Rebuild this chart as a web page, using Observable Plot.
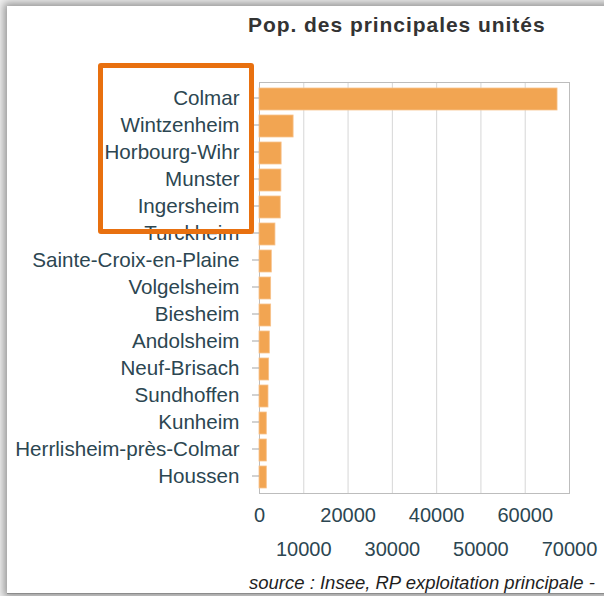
<!DOCTYPE html>
<html>
<head>
<meta charset="utf-8">
<script src="https://cdn.jsdelivr.net/npm/d3@7"></script>
<script src="https://cdn.jsdelivr.net/npm/@observablehq/plot@0.6"></script>
<style>
  html, body { margin: 0; padding: 0; }
  body { width: 604px; height: 596px; overflow: hidden; position: relative; background: #f0f0f0;
         font-family: "Liberation Sans", Arial, sans-serif; }
  #card { position: absolute; left: 7px; top: 6px; width: 640px; height: 587px; background: #fff;
          box-shadow: 0 0 8px 3px rgba(0,0,0,0.38); border-bottom: 1px solid #8c8c8c; }
  #title { position: absolute; left: 248px; top: 14px; font-size: 21px; line-height: 21px; font-weight: bold;
           letter-spacing: 0.95px; color: #333; white-space: nowrap; }
  #chart { position: absolute; left: 0; top: 60px; }
  #caption { position: absolute; left: 249px; top: 574px; font-size: 18.5px; line-height: 18.5px; font-style: italic;
             color: #1e1e1e; white-space: nowrap; }
  #highlight { position: absolute; left: 98px; top: 63px; width: 156px; height: 171px; box-sizing: border-box;
               border: 5.5px solid #e8700f; border-radius: 3px; }
</style>
</head>
<body>
<div id="card"></div>
<div id="title">Pop. des principales unités</div>
<div id="chart"></div>
<div id="caption">source : Insee, RP exploitation principale -</div>
<div id="highlight"></div>
<script>
const communes = [
  "Colmar", "Wintzenheim", "Horbourg-Wihr", "Munster", "Ingersheim", "Turckheim",
  "Sainte-Croix-en-Plaine", "Volgelsheim", "Biesheim", "Andolsheim", "Neuf-Brisach",
  "Sundhoffen", "Kunheim", "Herrlisheim-près-Colmar", "Houssen"
];
const population = [67300, 7700, 5000, 4950, 4800, 3600, 2780, 2630, 2630, 2330, 2180, 2030, 1650, 1650, 1650];
const ticksRow1 = [0, 20000, 40000, 60000];
const ticksRow2 = [10000, 30000, 50000, 70000];
const allTicks = [0, 10000, 20000, 30000, 40000, 50000, 60000, 70000];

const data = communes.map((c, i) => ({commune: c, pop: population[i]}));
const labelColor = "#2c4651";

const chart = Plot.plot({
  width: 604,
  height: 520,
  marginLeft: 259,
  marginRight: 35,
  marginTop: 22,
  marginBottom: 87,
  style: {fontSize: "20px", fontFamily: "'Liberation Sans', Arial, sans-serif", background: "transparent", color: labelColor},
  x: {domain: [0, 70000], label: null},
  y: {domain: communes, paddingInner: 0.2, paddingOuter: 0.08, label: null},
  marks: [
    Plot.gridX({ticks: allTicks, stroke: "#d6d6d6", strokeOpacity: 1}),
    Plot.frame({stroke: "#bdbdbd"}),
    Plot.barX(data, {y: "commune", x: "pop", fill: "#f2a552", stroke: "#f7c28c", strokeWidth: 0.8}),
    Plot.axisY({tickSize: 7, tickPadding: 13, stroke: "#a5a5a5", fill: labelColor, label: null, dy: -1.5, fontSize: 20.6}),
    Plot.axisX({ticks: ticksRow1, tickSize: 0, tickPadding: 14, tickFormat: d3.format("d"), fill: labelColor, label: null}),
    Plot.axisX({ticks: ticksRow2, tickSize: 0, tickPadding: 48.5, tickFormat: d3.format("d"), fill: labelColor, label: null})
  ]
});
document.getElementById("chart").appendChild(chart);
</script>
</body>
</html>
